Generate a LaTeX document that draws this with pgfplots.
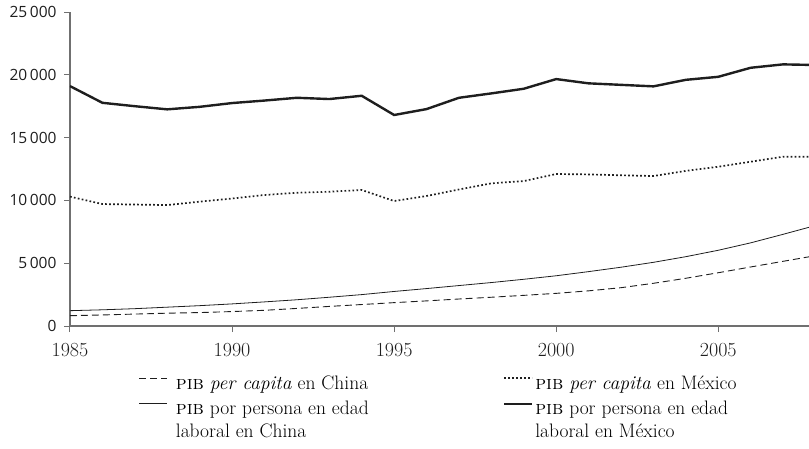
\documentclass[border=0pt]{standalone}
\usepackage{fontspec}
\usepackage{pgfplots}
\pgfplotsset{compat=1.18}
\newfontfamily\ticksf{Open Sans}
\definecolor{axgray}{HTML}{707070}
\definecolor{ink}{HTML}{1E1E1E}
\begin{document}
\begin{tikzpicture}
\begin{axis}[
 at={(0pt,0pt)}, anchor=south west,
 scale only axis, width=739pt, height=314pt,
 xmin=1985, xmax=2007.8, ymin=0, ymax=25000,
 axis x line*=bottom, axis y line*=left,
 axis line style={axgray, line width=1.1pt},
 tick style={axgray, line width=1pt},
 tick align=outside, major tick length=6pt,
 scaled y ticks=false,
 xtick={1985,1990,1995,2000,2005}, xticklabels={1985,1990,1995,2000,2005},
 ytick={0,5000,10000,15000,20000,25000},
 yticklabels={0,5\,000,10\,000,15\,000,20\,000,25\,000},
 yticklabel style={font=\ticksf\fontsize{15.5}{17}\selectfont, text=ink, xshift=-4pt},
 xticklabel style={font=\fontsize{20}{22}\selectfont, text=ink, yshift=-8pt},
 clip=true,
 legend columns=2,
 legend cell align=left,
 legend style={at={(0.0934,-0.158)}, anchor=north west, draw=none, fill=none,
   inner sep=0pt, outer sep=0pt, font=\fontsize{19.5}{23}\selectfont,
   nodes={inner sep=0pt}, row sep=10.5pt},
 legend image code/.code={\draw[#1] (0pt,5pt) -- (28pt,5pt);},
]
\addplot[ink, line width=0.9pt, dash pattern=on 7pt off 4pt] coordinates {
(1985,820)(1986,880)(1987,950)(1988,1020)(1989,1070)(1990,1150)(1991,1250)(1992,1400)(1993,1560)(1994,1710)(1995,1860)(1996,2000)(1997,2150)(1998,2290)(1999,2440)(2000,2600)(2001,2800)(2002,3050)(2003,3400)(2004,3800)(2005,4240)(2006,4700)(2007,5150)(2008,5600)};
\addlegendentry{\hspace{8pt}\parbox[t]{327pt}{\raggedright\textsc{pib} \textit{per capita} en China}}
\addplot[ink, line width=1.7pt, dash pattern=on 1.7pt off 2.3pt] coordinates {
(1985,10300)(1986,9710)(1987,9670)(1988,9630)(1989,9900)(1990,10150)(1991,10430)(1992,10610)(1993,10690)(1994,10830)(1995,9950)(1996,10350)(1997,10870)(1998,11360)(1999,11540)(2000,12100)(2001,12070)(2002,12000)(2003,11940)(2004,12350)(2005,12680)(2006,13080)(2007,13480)(2008,13480)};
\addlegendentry{\hspace{2pt}\parbox[t]{260pt}{\raggedright\textsc{pib} \textit{per capita} en México}}
\addplot[ink, line width=0.8pt] coordinates {
(1985,1220)(1986,1290)(1987,1380)(1988,1500)(1989,1620)(1990,1760)(1991,1920)(1992,2090)(1993,2290)(1994,2500)(1995,2750)(1996,2980)(1997,3220)(1998,3460)(1999,3720)(2000,4000)(2001,4330)(2002,4680)(2003,5070)(2004,5520)(2005,6030)(2006,6620)(2007,7300)(2008,8000)};
\addlegendentry{\hspace{8pt}\parbox[t]{327pt}{\raggedright\textsc{pib} por persona en edad\\laboral en China}}
\addplot[ink, line width=2.4pt] coordinates {
(1985,19100)(1986,17770)(1987,17500)(1988,17250)(1989,17450)(1990,17750)(1991,17950)(1992,18170)(1993,18070)(1994,18330)(1995,16800)(1996,17270)(1997,18170)(1998,18520)(1999,18890)(2000,19660)(2001,19320)(2002,19200)(2003,19080)(2004,19600)(2005,19840)(2006,20560)(2007,20830)(2008,20780)};
\addlegendentry{\hspace{2pt}\parbox[t]{260pt}{\raggedright\textsc{pib} por persona en edad\\laboral en México}}
\end{axis}
\pgfresetboundingbox
\path[use as bounding box] (-70pt,-122pt) rectangle (739pt,326pt);
\end{tikzpicture}
\end{document}
